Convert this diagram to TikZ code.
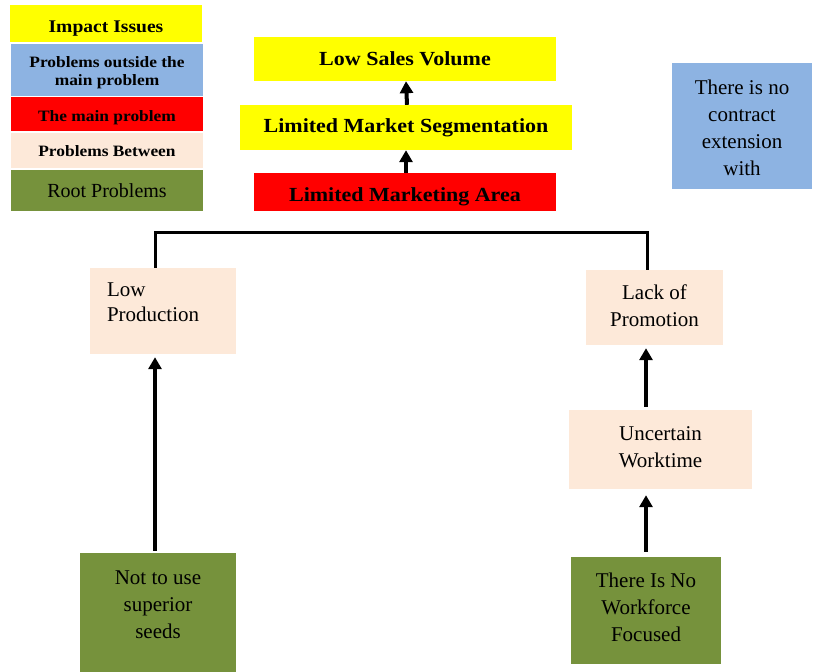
\documentclass[tikz,border=0pt]{standalone}
\usepackage{fontspec}
\setmainfont{Liberation Serif}
\newfontfamily\bfam[FakeStretch=1.1]{Liberation Serif}
\usetikzlibrary{arrows.meta}
\definecolor{cyel}{HTML}{FFFF00}
\definecolor{cblue}{HTML}{8DB3E2}
\definecolor{cred}{HTML}{FF0000}
\definecolor{cpeach}{HTML}{FDE9D9}
\definecolor{cgreen}{HTML}{76923C}
\tikzset{
  box/.style={inner sep=0pt, align=center},
  leg/.style={box, minimum width=192pt, font=\bfam\fontsize{15.8}{17}\selectfont\bfseries},
  mainbox/.style={box, font=\bfam\fontsize{20}{22}\selectfont\bfseries},
  plain/.style={box, font=\fontsize{21}{27}\selectfont},
  uparrow/.style={line width=4pt, -{Triangle[width=13pt,length=12pt]}},
  busline/.style={line width=3pt},
}
\begin{document}
\begin{tikzpicture}[x=1pt,y=-1pt]
\useasboundingbox (0,0) rectangle (822,672);
% legend
\node[leg, fill=cyel, minimum height=37pt, text height=17.8pt, text depth=0pt, font=\bfam\fontsize{17.8}{18}\selectfont\bfseries] (l1) at (106,23.5) {Impact Issues};
\node[leg, fill=cblue, minimum height=52pt, text height=30.5pt, text depth=0pt, font=\bfam\fontsize{15.8}{18}\selectfont\bfseries] (l2) at (107,70) {Problems outside the\\main problem};
\node[leg, fill=cred, minimum height=34pt, text height=15.3pt, text depth=0pt] (l3) at (107,114) {The main problem};
\node[leg, fill=cpeach, minimum height=35pt, text height=12.3pt, text depth=0pt] (l4) at (107,150.5) {Problems Between};
\node[leg, fill=cgreen, minimum height=41pt, text height=14.4pt, text depth=0pt, font=\fontsize{20}{20}\selectfont] (l5) at (107,190.5) {Root Problems};
% center stack
\node[mainbox, fill=cyel, minimum width=302pt, minimum height=44pt] (lsv) at (405,59) {Low Sales Volume};
\node[mainbox, fill=cyel, minimum width=332pt, minimum height=45pt] (lms) at (406,127.5) {Limited Market Segmentation};
\node[mainbox, fill=cred, minimum width=302pt, minimum height=38pt, text height=18.5pt, text depth=0pt] (lma) at (405,192) {Limited Marketing Area};
\draw[uparrow] ([xshift=1pt]lms.north) -- ([xshift=1pt]lsv.south);
\draw[uparrow] ([xshift=1pt]lma.north) -- ([xshift=0pt]lms.south);
% right blue box
\node[plain, fill=cblue, minimum width=140pt, minimum height=126pt, text height=99.3pt, text depth=0pt] (nce) at (742,126) {There is no\\contract\\extension\\with};
% left branch
\node[plain, fill=cpeach, minimum width=146pt, minimum height=86pt, align=left, text width=112pt, text depth=42pt, font=\fontsize{21}{25}\selectfont] (lp) at (163,311) {Low\\Production};
\node[plain, fill=cgreen, minimum width=156pt, minimum height=119pt, text depth=16pt] (nts) at (158,612.5) {Not to use\\superior\\seeds};
% right branch
\node[plain, fill=cpeach, minimum width=137pt, minimum height=75pt, text depth=4pt] (lop) at (654.5,307.5) {Lack of\\Promotion};
\node[plain, fill=cpeach, minimum width=183pt, minimum height=79pt, text depth=4pt] (uw) at (660.5,449.5) {Uncertain\\Worktime};
\node[plain, fill=cgreen, minimum width=150pt, minimum height=107pt, text depth=6pt] (tin) at (646,610.5) {There Is No\\Workforce\\Focused};
% connectors
\coordinate (bus) at (400,232);
\draw[busline] ([xshift=-8pt]lp.north) |- (bus) -| ([xshift=-7.5pt]lop.north);
\draw[uparrow, shorten <=2pt] ([xshift=-3pt]nts.north) -- ([xshift=-8pt,yshift=-3pt]lp.south);
\draw[uparrow, shorten <=3pt] ([xshift=-14.5pt]uw.north) -- ([xshift=-8.5pt,yshift=-3pt]lop.south);
\draw[uparrow, shorten <=5pt] ([xshift=0pt]tin.north) -- ([xshift=-14.5pt,yshift=-6pt]uw.south);
\end{tikzpicture}
\end{document}
